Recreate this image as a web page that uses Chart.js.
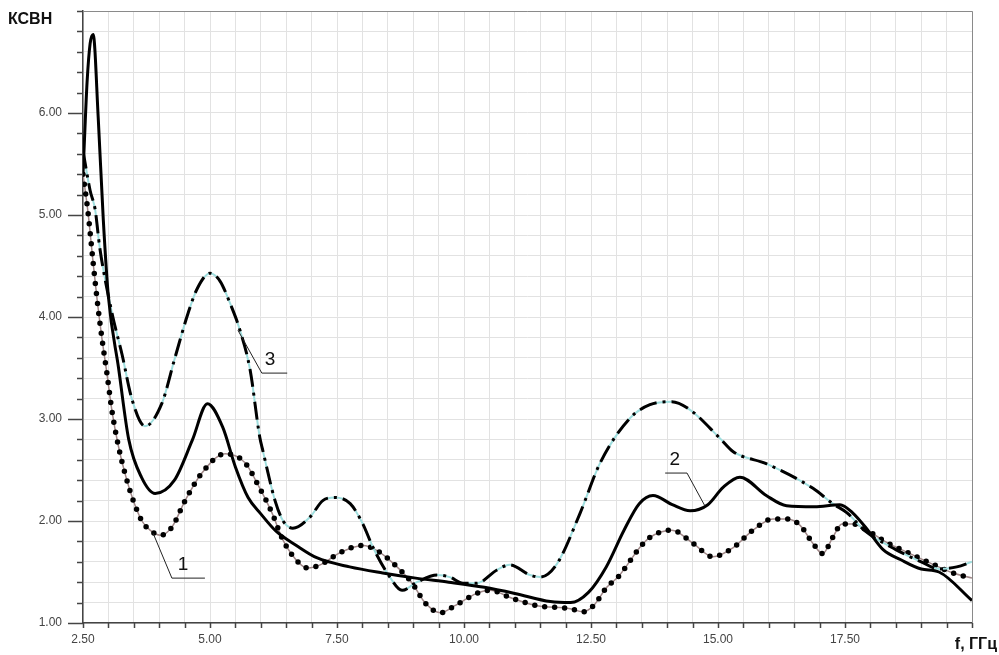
<!DOCTYPE html>
<html>
<head>
<meta charset="utf-8">
<script src="https://cdn.jsdelivr.net/npm/chart.js@4.4.1/dist/chart.umd.min.js"></script>
<style>
html,body{margin:0;padding:0;background:#fff;}
canvas{display:block;}
</style>
</head>
<body>
<canvas id="c" width="999" height="655"></canvas>
<script>
// ---- data ----
const freq1 = [2.5, 2.6, 2.7, 2.78, 2.87, 2.97, 3.07, 3.19, 3.33, 3.49, 3.66, 3.82, 4.02, 4.25, 4.51, 4.84, 5.3, 5.69, 5.95, 6.22, 6.44, 6.77, 6.93, 7.17, 7.56, 8.01, 8.29, 8.64, 8.98, 9.23, 9.53, 9.82, 10.25, 10.51, 10.96, 11.44, 12.09, 12.34, 12.55, 12.81, 13.03, 13.2, 13.46, 13.66, 14.09, 14.51, 14.9, 15.3, 15.69, 16.08, 16.36, 16.61, 16.87, 17.06, 17.26, 17.44, 17.66, 17.93, 18.32, 18.74, 19.17, 19.63, 20.0];
const ksvn1 = [5.4, 5.02, 4.53, 4.16, 3.80, 3.45, 3.08, 2.75, 2.46, 2.20, 2.0, 1.91, 1.86, 1.94, 2.2, 2.47, 2.66, 2.57, 2.35, 2.08, 1.81, 1.58, 1.54, 1.57, 1.69, 1.76, 1.71, 1.57, 1.39, 1.20, 1.10, 1.17, 1.29, 1.32, 1.24, 1.17, 1.14, 1.11, 1.17, 1.35, 1.45, 1.56, 1.74, 1.84, 1.91, 1.78, 1.65, 1.74, 1.91, 2.02, 2.02, 1.96, 1.78, 1.68, 1.84, 1.97, 1.97, 1.91, 1.79, 1.69, 1.59, 1.49, 1.44];

const freq2 = [2.5, 2.53, 2.58, 2.64, 2.7, 2.8, 2.9, 3.0, 3.2, 3.4, 3.65, 3.92, 4.3, 4.65, 4.95, 5.25, 5.5, 5.75, 6.0, 6.3, 6.7, 7.1, 7.75, 8.4, 9.05, 9.7, 10.4, 11.0, 11.7, 12.1, 12.45, 12.8, 13.15, 13.45, 13.72, 14.1, 14.45, 14.8, 15.1, 15.43, 15.95, 16.35, 16.9, 17.4, 17.65, 17.95, 18.25, 18.6, 19.0, 19.35, 20.0];
const ksvn2 = [5.4, 5.75, 6.3, 6.68, 6.77, 5.95, 4.95, 4.2, 3.5, 2.8, 2.43, 2.27, 2.40, 2.79, 3.15, 2.92, 2.53, 2.23, 2.07, 1.9, 1.76, 1.64, 1.55, 1.49, 1.44, 1.40, 1.35, 1.29, 1.21, 1.20, 1.30, 1.55, 1.91, 2.17, 2.25, 2.16, 2.10, 2.16, 2.33, 2.43, 2.25, 2.15, 2.14, 2.16, 2.08, 1.91, 1.72, 1.62, 1.53, 1.50, 1.22];

const freq3 = [2.5, 2.64, 2.74, 2.83, 3.07, 3.27, 3.46, 3.72, 4.05, 4.31, 4.57, 4.75, 5.0, 5.2, 5.39, 5.59, 5.79, 5.98, 6.04, 6.28, 6.44, 6.63, 6.97, 7.22, 7.46, 7.76, 8.01, 8.21, 8.54, 8.78, 9.07, 9.47, 9.72, 9.98, 10.25, 10.65, 10.9, 11.3, 11.5, 11.83, 12.28, 12.68, 13.27, 13.66, 14.09, 14.45, 15.04, 15.3, 15.96, 16.87, 17.26, 17.54, 17.9, 18.5, 19.0, 19.35, 19.7, 20.0];
const ksvn3 = [5.63, 5.24, 5.05, 4.68, 4.04, 3.63, 3.2, 2.93, 3.15, 3.6, 4.04, 4.28, 4.43, 4.35, 4.14, 3.87, 3.48, 2.82, 2.69, 2.2, 2.0, 1.93, 2.04, 2.2, 2.23, 2.17, 1.97, 1.74, 1.45, 1.32, 1.40, 1.47, 1.45, 1.39, 1.39, 1.52, 1.57, 1.47, 1.45, 1.58, 2.07, 2.57, 3.01, 3.14, 3.17, 3.09, 2.81, 2.68, 2.56, 2.32, 2.17, 2.08, 1.9, 1.72, 1.6, 1.53, 1.55, 1.6];

// axis ticks
const xMin = 2.5, xMax = 20, xStep = 0.5;
const xTickLabels = ['2.50', '5.00', '7.50', '10.00', '12.50', '15.00', '17.50'];
const yMin = 1, yMax = 7, yStep = 0.2;
const yTickLabels = ['1.00', '2.00', '3.00', '4.00', '5.00', '6.00'];
const yAxisTitle = 'КСВН';
const xAxisTitle = 'f, ГГц';

// curve callouts (label, start of leader, elbow, end of shelf, text anchor) in data units
const calloutNames = ['1', '2', '3'];
const calloutStart = [[3.88, 1.88], [14.74, 2.15], [5.55, 3.87]];
const calloutElbow = [[4.25, 1.44], [14.39, 2.47], [6.02, 3.45]];
const calloutEndX = [4.90, 13.96, 6.52];
const calloutText = [[4.47, 1.57], [14.15, 2.60], [6.18, 3.58]];

const pts = (xs, ys) => xs.map((x, i) => ({x: x, y: ys[i]}));
const labelFor = (list, v) => list.find(s => Math.abs(parseFloat(s) - v) < 1e-6) || '';
const isMajorY = v => labelFor(yTickLabels, v) !== '' || Math.abs(v - yMax) < 1e-6;

const decor = {
  id: 'decor',
  afterDraw(chart) {
    const ctx = chart.ctx, xs = chart.scales.x, ys = chart.scales.y, a = chart.chartArea;
    ctx.save();
    // frame top/right
    ctx.strokeStyle = '#8a8a8a';
    ctx.lineWidth = 1;
    ctx.beginPath();
    ctx.moveTo(a.left, a.top + 0.5); ctx.lineTo(a.right + 0.5, a.top + 0.5); ctx.lineTo(a.right + 0.5, a.bottom);
    ctx.stroke();
    // axis tick marks
    ctx.strokeStyle = '#444';
    ctx.lineWidth = 1.5;
    ctx.beginPath();
    for (let v = yMin; v <= yMax + 1e-9; v += yStep) {
      const p = Math.round(ys.getPixelForValue(v)) + 0.5;
      const len = labelFor(yTickLabels, v) !== '' ? 15 : 6;
      ctx.moveTo(a.left - len, p); ctx.lineTo(a.left, p);
    }
    for (let v = xMin; v <= xMax + 1e-9; v += xStep) {
      const p = Math.round(xs.getPixelForValue(v)) + 0.5;
      ctx.moveTo(p, a.bottom); ctx.lineTo(p, a.bottom + 5);
    }
    ctx.stroke();
    // axis titles
    ctx.fillStyle = '#111';
    ctx.font = 'bold 16px "Liberation Sans", Arial, sans-serif';
    ctx.textBaseline = 'alphabetic';
    ctx.textAlign = 'left';
    ctx.fillText(yAxisTitle, 8, 24);
    ctx.textAlign = 'right';
    ctx.fillText(xAxisTitle, 997, 649);
    // callouts
    ctx.strokeStyle = '#222';
    ctx.lineWidth = 1;
    ctx.fillStyle = '#111';
    ctx.font = '19px "Liberation Sans", Arial, sans-serif';
    ctx.textAlign = 'center';
    ctx.textBaseline = 'middle';
    calloutNames.forEach((n, i) => {
      const sx = xs.getPixelForValue(calloutStart[i][0]), sy = ys.getPixelForValue(calloutStart[i][1]);
      const ex = xs.getPixelForValue(calloutElbow[i][0]), ey = ys.getPixelForValue(calloutElbow[i][1]);
      const fx = xs.getPixelForValue(calloutEndX[i]);
      ctx.beginPath();
      ctx.moveTo(sx, sy); ctx.lineTo(ex, ey); ctx.lineTo(fx, ey);
      ctx.stroke();
      ctx.fillText(n, xs.getPixelForValue(calloutText[i][0]), ys.getPixelForValue(calloutText[i][1]));
    });
    ctx.restore();
  }
};

const common = {pointRadius: 0, pointHoverRadius: 0, fill: false, cubicInterpolationMode: 'monotone'};

new Chart(document.getElementById('c'), {
  type: 'line',
  data: {
    datasets: [
      Object.assign({label: '2', data: pts(freq2, ksvn2), borderColor: '#000', borderWidth: 3, order: 0}, common),
      Object.assign({label: '3', data: pts(freq3, ksvn3), borderColor: '#000', borderWidth: 3, borderDash: [18, 6, 3, 6], order: 1}, common),
      Object.assign({label: '3 base', data: pts(freq3, ksvn3), borderColor: '#9fdede', borderWidth: 2, order: 2}, common),
      Object.assign({label: '1', data: pts(freq1, ksvn1), borderColor: '#000', borderWidth: 5.5, borderDash: [0, 10], borderCapStyle: 'round', order: 3}, common),
      Object.assign({label: '1 base', data: pts(freq1, ksvn1), borderColor: '#a08888', borderWidth: 1.5, order: 4}, common)
    ]
  },
  options: {
    responsive: false,
    animation: false,
    devicePixelRatio: 1,
    layout: {padding: {top: 11, right: 27, left: 0, bottom: 0}},
    plugins: {legend: {display: false}, tooltip: {enabled: false}},
    scales: {
      x: {
        type: 'linear', min: xMin, max: xMax,
        afterFit(s) { s.height = 32; s.paddingLeft = 0; s.paddingRight = 0; },
        grid: {color: '#e2e2e2', lineWidth: 1, drawTicks: false},
        border: {color: '#444', width: 1.5},
        ticks: {
          stepSize: xStep, autoSkip: false, maxRotation: 0, padding: 9,
          color: '#444', font: {size: 12, family: '"Liberation Sans", Arial, sans-serif'},
          callback: v => labelFor(xTickLabels, v)
        }
      },
      y: {
        type: 'linear', min: yMin, max: yMax,
        afterFit(s) { s.width = 83; s.paddingTop = 0; s.paddingBottom = 0; },
        grid: {color: '#e2e2e2', lineWidth: 1, drawTicks: false},
        border: {color: '#444', width: 1.5},
        ticks: {
          stepSize: yStep, autoSkip: false, padding: 21,
          color: '#444', font: {size: 12, family: '"Liberation Sans", Arial, sans-serif'},
          callback: v => labelFor(yTickLabels, v)
        }
      }
    }
  },
  plugins: [decor]
});
</script>
</body>
</html>
